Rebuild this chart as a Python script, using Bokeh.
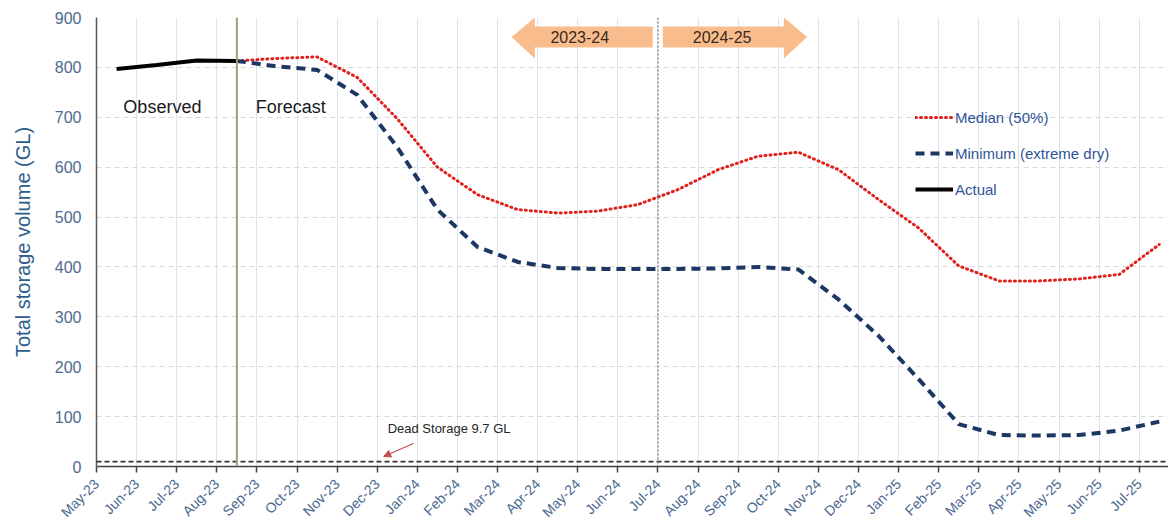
import math
from bokeh.plotting import figure
from bokeh.models import (FixedTicker, Span, Label, Arrow, NormalHead, Legend, LegendItem)
from bokeh.embed import file_html
from bokeh.resources import INLINE

# ---------------- data ----------------
months = ["May-23", "Jun-23", "Jul-23", "Aug-23", "Sep-23", "Oct-23", "Nov-23", "Dec-23",
          "Jan-24", "Feb-24", "Mar-24", "Apr-24", "May-24", "Jun-24", "Jul-24", "Aug-24",
          "Sep-24", "Oct-24", "Nov-24", "Dec-24", "Jan-25", "Feb-25", "Mar-25", "Apr-25",
          "May-25", "Jun-25", "Jul-25"]

actual_months = ["May-23", "Jun-23", "Jul-23", "Aug-23"]
actual_values = [797, 805, 814, 813]

forecast_months = months[3:]
median_values = [813, 818, 821, 780, 697, 600, 545, 515, 508, 512, 525, 555,
                 595, 622, 630, 595, 535, 478, 402, 372, 372, 376, 385, 445]
minimum_values = [813, 802, 795, 745, 640, 515, 440, 410, 398, 396, 396, 396,
                  397, 400, 395, 335, 262, 175, 85, 63, 62, 63, 72, 90]

dead_storage = 9.7
y_ticks = [0, 100, 200, 300, 400, 500, 600, 700, 800, 900]
forecast_start = "Aug-23"
year_split = "Jul-24"

# ---------------- helpers ----------------
idx = {m: i for i, m in enumerate(months)}
def xc(m):  # category centre
    return idx[m] + 0.5

FONT = "Liberation Sans"

p = figure(width=1168, height=528, output_backend="svg", toolbar_location=None,
           x_range=(0, 26.73), y_range=(0, 900),
           min_border_left=96, min_border_right=0, min_border_top=17, min_border_bottom=60)
p.outline_line_color = None
p.background_fill_color = "white"

# grids
p.xgrid.grid_line_color = "#dbe5f1"
p.xgrid.grid_line_width = 1
p.ygrid.grid_line_color = "#d9d9d9"
p.ygrid.grid_line_dash = "5 4"
p.ygrid.grid_line_width = 1

# x axis
p.xaxis.ticker = FixedTicker(ticks=list(range(len(months))))
p.xaxis.major_label_overrides = {i: m for i, m in enumerate(months)}
p.xaxis.major_label_orientation = math.pi / 4
p.xaxis.major_label_text_font = FONT
p.xaxis.major_label_text_font_size = "14px"
p.xaxis.major_label_text_color = "#4a6890"
p.xaxis.axis_line_color = "#404040"
p.xaxis.axis_line_width = 1.5
p.xaxis.major_tick_line_color = "#404040"
p.xaxis.major_tick_line_width = 1.5
p.xaxis.major_tick_out = 6
p.xaxis.major_tick_in = 0
p.xaxis.minor_tick_line_color = None
p.xaxis.major_label_standoff = 9

# y axis
p.yaxis.ticker = FixedTicker(ticks=y_ticks)
p.yaxis.axis_label = "Total storage volume (GL)"
p.yaxis.axis_label_text_font = FONT
p.yaxis.axis_label_text_font_size = "20px"
p.yaxis.axis_label_text_font_style = "normal"
p.yaxis.axis_label_text_color = "#2e5c8c"
p.yaxis.axis_label_standoff = 18
p.yaxis.major_label_text_font = FONT
p.yaxis.major_label_text_font_size = "16px"
p.yaxis.major_label_text_color = "#4e6a8e"
p.yaxis.major_label_standoff = 15
p.yaxis.major_tick_out = 0
p.yaxis.major_tick_in = 0
p.yaxis.minor_tick_line_color = None
p.yaxis.axis_line_color = "#595959"
p.yaxis.axis_line_width = 1.5

# dead storage line
p.add_layout(Span(location=dead_storage, dimension="width", line_color="#333333",
                  line_dash="5 3", line_width=1.8))

# vertical markers
p.add_layout(Span(location=xc(forecast_start), dimension="height", line_color="#a89f6e",
                  line_width=2))
p.add_layout(Span(location=idx[year_split], dimension="height", line_color="#8c8c8c",
                  line_dash="2 2", line_width=1.5))

# series
r_med = p.line([xc(m) for m in forecast_months], median_values, line_color="#e0201b",
               line_width=3, line_dash="1 4", line_cap="round")
r_min = p.line([xc(m) for m in forecast_months], minimum_values, line_color="#1c3763",
               line_width=4, line_dash="9 6")
r_act = p.line([xc(m) for m in actual_months], actual_values, line_color="black",
               line_width=4)

legend = Legend(items=[LegendItem(label="Median (50%)", renderers=[r_med]),
                       LegendItem(label="Minimum (extreme dry)", renderers=[r_min]),
                       LegendItem(label="Actual", renderers=[r_act])],
                location=(819, 267), border_line_color=None, background_fill_alpha=0,
                glyph_width=38, glyph_height=20, label_height=20, spacing=16,
                label_standoff=2, padding=5, margin=0,
                label_text_font=FONT, label_text_font_size="15px",
                label_text_color="#2f5597")
p.add_layout(legend)

# Observed / Forecast labels
p.add_layout(Label(x=0.67, y=700, text="Observed", text_font=FONT, text_font_size="18px",
                   text_color="#1a1a1a"))
p.add_layout(Label(x=3.97, y=700, text="Forecast", text_font=FONT, text_font_size="18px",
                   text_color="#1a1a1a"))

# year arrows
ys = idx[year_split]
body_lo, body_hi, head_lo, head_hi = 840, 882, 818, 900
lx = [ys - 3.65, ys - 3.07, ys - 3.07, ys - 0.13, ys - 0.13, ys - 3.07, ys - 3.07]
ly = [861, head_hi, body_hi, body_hi, body_lo, body_lo, head_lo]
rx = [ys + 3.72, ys + 3.14, ys + 3.14, ys + 0.12, ys + 0.12, ys + 3.14, ys + 3.14]
p.patch(lx, ly, fill_color="#f9bd8d", line_color=None)
p.patch(rx, ly, fill_color="#f9bd8d", line_color=None)
p.add_layout(Label(x=ys - 1.95, y=861, text="2023-24", text_font=FONT, text_font_size="16px",
                   text_color="#3a2a1c", text_align="center", text_baseline="middle"))
p.add_layout(Label(x=ys + 1.6, y=861, text="2024-25", text_font=FONT, text_font_size="16px",
                   text_color="#3a2a1c", text_align="center", text_baseline="middle"))

# dead storage annotation
p.add_layout(Label(x=7.26, y=62, text="Dead Storage 9.7 GL", text_font=FONT,
                   text_font_size="13px", text_color="#262626"))
p.add_layout(Arrow(x_start=7.9, y_start=46, x_end=7.16, y_end=20,
                   line_color="#c0504d", line_width=1.2,
                   end=NormalHead(size=7, fill_color="#c0504d", line_color="#c0504d")))

open("out.html", "w").write(file_html(p, INLINE))
